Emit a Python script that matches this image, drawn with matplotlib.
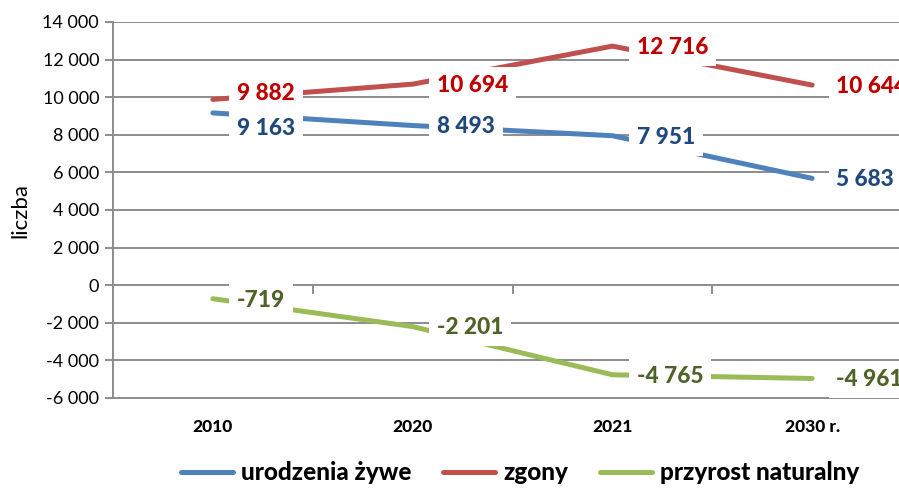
import matplotlib
matplotlib.use("Agg")
import matplotlib.pyplot as plt
import numpy as np
from matplotlib.ticker import FuncFormatter

plt.rcParams["font.family"] = ["Lato", "DejaVu Sans"]

# ---- Data ----
years = ["2010", "2020", "2021", "2030 r."]
urodzenia = [9163, 8493, 7951, 5683]
zgony = [9882, 10694, 12716, 10644]
przyrost = [-719, -2201, -4765, -4961]

series_names = ["urodzenia żywe", "zgony", "przyrost naturalny"]
line_colors = ["#4F81BD", "#C0504D", "#9BBB59"]
label_colors = ["#1F497D", "#C00000", "#4F6228"]

grid_col = "#8C8C8C"
BOLD = 900

fig = plt.figure(figsize=(8.99, 4.88), dpi=100)
ax = fig.add_axes([113 / 899, 90 / 488, 799 / 899, 376 / 488])

x = np.arange(len(years))
all_series = [urodzenia, zgony, przyrost]

for vals, name, col in zip(all_series, series_names, line_colors):
    ax.plot(x, vals, color=col, lw=3.6, solid_capstyle="round",
            solid_joinstyle="round", label=name, zorder=3)

# data labels (white boxes hide line & grid, like Excel)
# the two 2010 labels were pulled apart in the original
dy_extra = {(0, 0): -11, (1, 0): 4.5}
for si, (vals, col) in enumerate(zip(all_series, label_colors)):
    for i, v in enumerate(vals):
        txt = f"{v:,}".replace(",", " ")
        dy = dy_extra.get((si, i), -1)
        ax.annotate(txt, (x[i], v), xytext=(17.5, dy), textcoords="offset points",
                    ha="left", va="center", fontsize=16.3, fontweight=BOLD,
                    color=col, zorder=5, annotation_clip=False,
                    bbox=dict(boxstyle="square,pad=0.35", fc="white", ec="none"))

ax.set_xlim(-0.5, 3.5)
ax.set_ylim(-6000, 14000)
ax.set_yticks(np.arange(-6000, 14001, 2000))
ax.yaxis.set_major_formatter(FuncFormatter(lambda v, _: f"{int(v):,}".replace(",", " ")))
ax.grid(axis="y", color=grid_col, lw=1.4, zorder=0)
ax.tick_params(axis="y", length=6, width=1.4, color=grid_col, labelsize=13, pad=4)

ax.set_xticks(x)
ax.set_xticklabels(years, fontsize=12.5, fontweight=BOLD)
ax.tick_params(axis="x", length=0, pad=15)

# category-boundary ticks on the zero line
ax.vlines(x[:-1] + 0.5, -450, 0, color=grid_col, lw=1.4, zorder=1)

for s in ["top", "right"]:
    ax.spines[s].set_visible(False)
ax.spines["left"].set_color(grid_col)
ax.spines["left"].set_linewidth(1.4)
ax.spines["bottom"].set_color(grid_col)
ax.spines["bottom"].set_linewidth(1.4)

ax.set_ylabel("liczba", fontsize=16, labelpad=9)

fig.legend(loc="center", bbox_to_anchor=(520 / 899, 1 - 473 / 488), ncol=3,
           frameon=False, handlelength=2.15, handletextpad=0.33,
           columnspacing=1.3, prop=dict(weight=BOLD, size=17.5))

fig.savefig("out.png", dpi=100, facecolor="white")
